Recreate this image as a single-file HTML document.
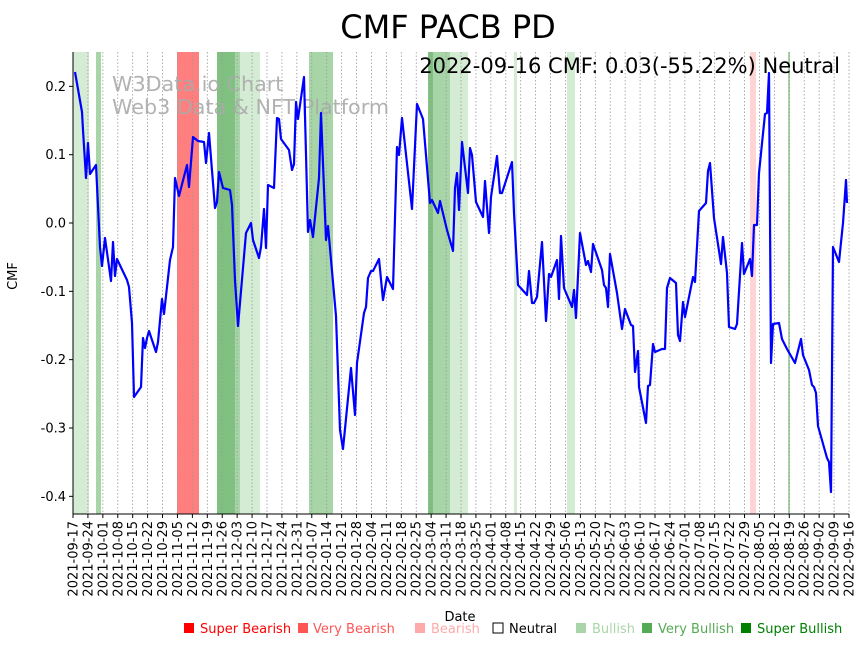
<!DOCTYPE html>
<html><head><meta charset="utf-8"><style>
body{margin:0;background:#fff;}
svg{display:block;font-family:"DejaVu Sans","Liberation Sans",sans-serif;}
</style></head><body>
<svg id="s" width="864" height="646" viewBox="0 0 864 646">
<rect width="864" height="646" fill="#fff"/>
<g id="bands">
<rect x="73" y="52" width="16" height="462" fill="#d4ebd4"/>
<rect x="96" y="52" width="5" height="462" fill="#a8d5a8"/>
<rect x="177" y="52" width="22" height="462" fill="#ff7f7f"/>
<rect x="217" y="52" width="18" height="462" fill="#80c080"/>
<rect x="235" y="52" width="5" height="462" fill="#a8d5a8"/>
<rect x="240" y="52" width="20" height="462" fill="#d4ebd4"/>
<rect x="309" y="52" width="24" height="462" fill="#a8d5a8"/>
<rect x="428" y="52" width="5" height="462" fill="#80c080"/>
<rect x="433" y="52" width="17" height="462" fill="#a8d5a8"/>
<rect x="450" y="52" width="18" height="462" fill="#d4ebd4"/>
<rect x="514" y="52" width="3" height="462" fill="#d4ebd4"/>
<rect x="567" y="52" width="8" height="462" fill="#d4ebd4"/>
<rect x="750" y="52" width="6" height="462" fill="#ffd4d4"/>
<rect x="788" y="52" width="2" height="462" fill="#a8d5a8"/>
</g>
<g id="grid" stroke="#999" stroke-width="0.8" stroke-dasharray="1.5,2"></g>
<text x="112" y="91" font-size="20.7" fill="#aaa" fill-opacity="0.9">W3Data.io Chart</text>
<text x="112" y="114" font-size="20.7" fill="#aaa" fill-opacity="0.9">Web3 Data &amp; NFT Platform</text>
<polyline fill="none" stroke="#0000ff" stroke-width="2.2" stroke-linejoin="round" points="75,72 82,112 83,130 86,178 88,143 90,174 96,165 100,247 102,266 105,238 111,281 113,242 115,276 117,259 127,280 129,287 132,323 134,397 141,387 143,338 145,348 147,338 149,331 156,352 158,342 162,299 164,314 170,260 173,247 175,178 179,196 187,165 189,187 193,137 198,141 204,142 206,163 209,133 215,208 217,202 219,172 223,188 230,190 232,205 235,280 238,326 246,233 251,223 253,240 259,258 261,247 264,209 266,248 268,185 274,188 277,118 279,119 281,139 289,150 292,170 294,164 296,102 298,119 304,77 308,232 310,220 313,237 319,178 321,113 326,240 328,226 336,316 340,430 343,449 351,368 355,415 357,363 364,313 366,307 368,278 371,271 373,271 379,259 383,300 387,277 393,289 397,147 399,155 402,118 412,209 417,104 423,119 427,167 430,203 432,200 438,213 440,201 447,230 453,251 455,188 457,173 459,210 462,142 468,193 470,148 472,155 476,202 483,217 485,181 489,233 491,197 497,156 500,193 502,193 512,162 514,213 518,285 527,295 529,271 532,303 534,303 537,297 542,242 546,321 549,274 551,277 557,260 559,299 561,236 564,288 572,307 574,290 576,318 580,233 586,265 588,261 591,272 593,244 602,270 604,285 606,288 608,307 610,254 617,293 622,329 625,309 631,325 633,326 635,372 638,351 639,387 646,423 648,386 650,385 653,344 655,352 662,349 665,349 667,288 670,278 676,283 678,335 680,341 683,302 685,317 693,277 695,282 699,211 706,203 708,171 710,163 714,218 721,264 723,237 727,273 729,327 735,329 737,324 742,243 744,274 750,259 752,276 754,225 757,225 759,173 765,114 767,113 769,73 771,363 773,324 779,323 782,339 787,349 795,363 801,339 803,355 809,370 812,385 814,387 816,393 818,426 827,458 829,462 831,492 833,247 839,262 843,223 846,180 847,203"/>
<line x1="73" y1="52" x2="73" y2="514" stroke="#000" stroke-width="1"/>
<line x1="73" y1="514" x2="849" y2="514" stroke="#000" stroke-width="1"/>
<g id="yt" font-size="13" text-anchor="end"></g>
<g id="xt" font-size="13"></g>
<text x="24" y="283" font-size="13" text-anchor="middle" transform="rotate(-90 17 283)">CMF</text>
<text x="460" y="621" font-size="13" text-anchor="middle">Date</text>
<text x="448" y="38" font-size="32" text-anchor="middle">CMF PACB PD</text>
<text x="840" y="73" font-size="21" text-anchor="end">2022-09-16 CMF: 0.03(-55.22%) Neutral</text>
<g font-size="13">
<rect x="184" y="623" width="10" height="10" fill="#ff0000"/><text x="200" y="633" fill="#ff0000">Super Bearish</text>
<rect x="298" y="623" width="10" height="10" fill="#ff5555"/><text x="313" y="633" fill="#ff5555">Very Bearish</text>
<rect x="415" y="623" width="10" height="10" fill="#ffaaaa"/><text x="431" y="633" fill="#ffaaaa">Bearish</text>
<rect x="493" y="623" width="10" height="10" fill="#fff" stroke="#000"/><text x="509" y="633" fill="#000">Neutral</text>
<rect x="576" y="623" width="10" height="10" fill="#aad5aa"/><text x="592" y="633" fill="#aad5aa">Bullish</text>
<rect x="642" y="623" width="10" height="10" fill="#55aa55"/><text x="658" y="633" fill="#55aa55">Very Bullish</text>
<rect x="741" y="623" width="10" height="10" fill="#008000"/><text x="757" y="633" fill="#008000">Super Bullish</text>
</g>
</svg>
<script>
var NS="http://www.w3.org/2000/svg";
function el(t,a,p,txt){var e=document.createElementNS(NS,t);for(var k in a)e.setAttribute(k,a[k]);if(txt)e.textContent=txt;document.getElementById(p).appendChild(e);return e;}
var y0=223,py=683.3;
[0.2,0.1,0,-0.1,-0.2,-0.3,-0.4].forEach(function(v){var y=y0-v*py;
el("line",{x1:69,y1:y,x2:73,y2:y,stroke:"#000"},"yt");
el("text",{x:66,y:y+4.5},"yt",v===0?"0.0":v.toFixed(1));});
var d=new Date(Date.UTC(2021,8,17));
for(var i=0;i<=52;i++){var x=73+i*776/52;
var s=d.toISOString().slice(0,10);
el("line",{x1:x,y1:52,x2:x,y2:514},"grid");
el("line",{x1:x,y1:514,x2:x,y2:518,stroke:"#000"},"xt");
el("text",{x:x+4.5,y:521,"text-anchor":"end",transform:"rotate(-90 "+(x+4.5)+" 521)"},"xt",s);
d.setUTCDate(d.getUTCDate()+7);}
</script>
</body></html>
